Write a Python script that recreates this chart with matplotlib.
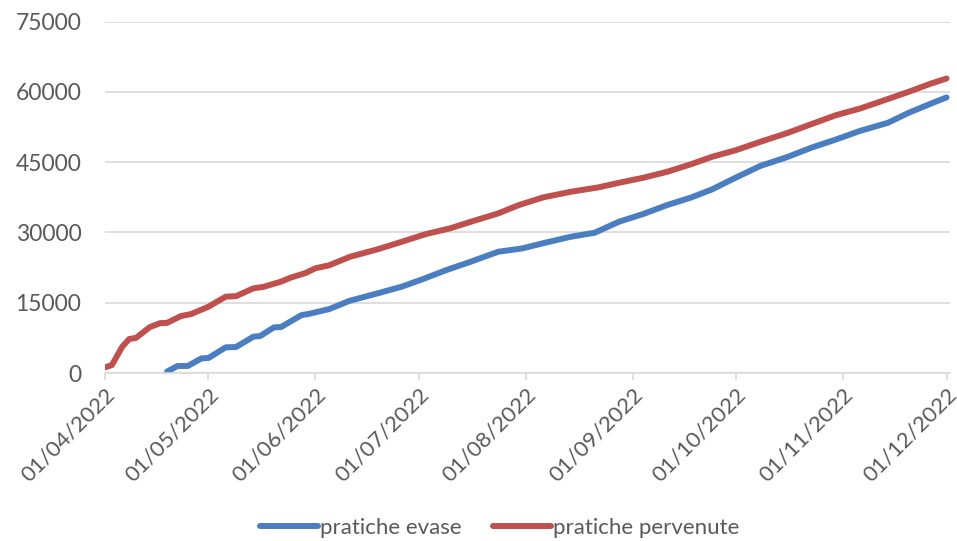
import pandas as pd
import matplotlib.pyplot as plt
import matplotlib.dates as mdates
from matplotlib.ticker import MultipleLocator

# valori (circa)
date_pervenute = ["01/04/2022", "03/04/2022", "06/04/2022", "08/04/2022", "10/04/2022",
                  "14/04/2022", "17/04/2022", "19/04/2022", "23/04/2022", "26/04/2022",
                  "01/05/2022", "06/05/2022", "09/05/2022", "14/05/2022", "17/05/2022",
                  "22/05/2022", "25/05/2022", "29/05/2022", "01/06/2022", "05/06/2022",
                  "11/06/2022", "19/06/2022", "26/06/2022", "03/07/2022", "10/07/2022",
                  "17/07/2022", "24/07/2022", "30/07/2022", "06/08/2022", "14/08/2022",
                  "22/08/2022", "28/08/2022", "04/09/2022", "11/09/2022", "18/09/2022",
                  "24/09/2022", "01/10/2022", "08/10/2022", "16/10/2022", "22/10/2022",
                  "30/10/2022", "06/11/2022", "13/11/2022", "20/11/2022", "26/11/2022",
                  "01/12/2022"]
pervenute = [1200, 1700, 5600, 7250, 7500,
             9800, 10650, 10700, 12150, 12600,
             14150, 16300, 16400, 18070, 18400,
             19500, 20400, 21300, 22350, 23000,
             24800, 26400, 28000, 29650, 30870,
             32500, 34070, 35850, 37480, 38680,
             39620, 40600, 41670, 42950, 44590,
             46150, 47580, 49350, 51270, 52910,
             55050, 56470, 58240, 60020, 61660,
             62870]

date_evase = ["19/04/2022", "22/04/2022", "25/04/2022", "29/04/2022", "01/05/2022",
              "06/05/2022", "09/05/2022", "14/05/2022", "16/05/2022", "20/05/2022",
              "22/05/2022", "28/05/2022", "30/05/2022", "05/06/2022", "11/06/2022",
              "19/06/2022", "26/06/2022", "02/07/2022", "09/07/2022", "16/07/2022",
              "24/07/2022", "31/07/2022", "06/08/2022", "14/08/2022", "21/08/2022",
              "28/08/2022", "04/09/2022", "11/09/2022", "18/09/2022", "24/09/2022",
              "01/10/2022", "08/10/2022", "16/10/2022", "23/10/2022", "30/10/2022",
              "06/11/2022", "14/11/2022", "20/11/2022", "27/11/2022", "01/12/2022"]
evase = [300, 1500, 1500, 3130, 3200,
         5480, 5550, 7750, 7900, 9750,
         9800, 12370, 12600, 13650, 15430,
         17000, 18420, 20000, 21980, 23750,
         25880, 26600, 27700, 29080, 29950,
         32290, 33930, 35850, 37480, 39190,
         41750, 44200, 46150, 48150, 49860,
         51700, 53410, 55540, 57670, 58830]

x_perv = pd.to_datetime(date_pervenute, format="%d/%m/%Y")
x_evas = pd.to_datetime(date_evase, format="%d/%m/%Y")

plt.rcParams['font.family'] = ['Lato', 'DejaVu Sans']
grigio = "#595959"

fig = plt.figure(figsize=(9.57, 5.41), dpi=100)
ax = fig.add_axes([0.1097, 0.3105, 0.883, 0.6495])

ax.plot(x_evas, evase, color="#4A7EC1", lw=4.3, solid_capstyle="round", label="pratiche evase")
ax.plot(x_perv, pervenute, color="#C0504D", lw=4.3, solid_capstyle="round", label="pratiche pervenute")

ax.set_ylim(0, 75000)
ax.yaxis.set_major_locator(MultipleLocator(15000))
ax.set_xlim(pd.Timestamp("2022-04-01"), pd.Timestamp("2022-12-02"))
ax.xaxis.set_major_locator(mdates.MonthLocator())
ax.xaxis.set_major_formatter(mdates.DateFormatter("%d/%m/%Y"))

ax.grid(axis="y", color="#D9D9D9", lw=1.2)
ax.set_axisbelow(True)
for s in ["top", "right", "left"]:
    ax.spines[s].set_visible(False)
ax.spines["bottom"].set_color("#D9D9D9")
ax.spines["bottom"].set_linewidth(1.2)
ax.tick_params(axis="y", length=0, pad=17, labelsize=16.5, labelcolor=grigio)
ax.tick_params(axis="x", length=5, width=1.2, color="#D9D9D9", labelsize=16, labelcolor=grigio, pad=3)
for lab in ax.get_xticklabels():
    lab.set_rotation(45)
    lab.set_ha("right")
    lab.set_rotation_mode("anchor")

fig.legend(loc="center", bbox_to_anchor=(0.522, 0.024), ncol=2, frameon=False,
           fontsize=16, labelcolor=grigio, handlelength=2.6, handletextpad=0.1,
           columnspacing=1.4)

fig.savefig("out.png", dpi=100)
